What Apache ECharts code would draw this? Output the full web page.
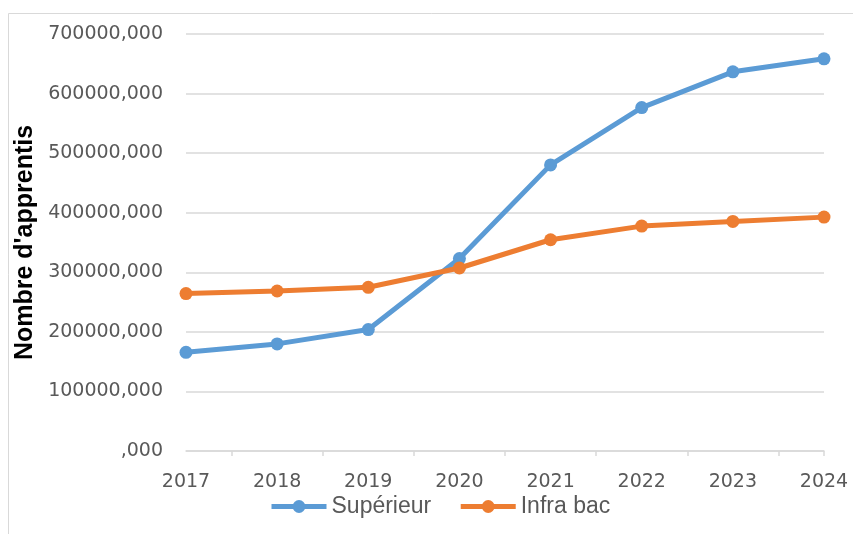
<!DOCTYPE html>
<html>
<head>
<meta charset="utf-8">
<script src="https://cdn.jsdelivr.net/npm/echarts@6/dist/echarts.min.js"></script>
<style>
  html, body { margin: 0; padding: 0; background: #fff; }
  #chart { width: 853px; height: 534px; }
</style>
</head>
<body>
<div id="chart"></div>
<script>
// annees et effectifs
var years = ['2017', '2018', '2019', '2020', '2021', '2022', '2023', '2024'];
var superieur = [165700, 179800, 203900, 323000, 480300, 576500, 636500, 658300];
var infraBac = [264200, 268600, 274800, 307200, 354600, 377500, 385400, 392600];
// demi-pas pour placer les graduations entre les annees
var halfSteps = ['0', '1', '2', '3', '4', '5', '6', '7', '8', '9', '10', '11', '12', '13', '14'];

var chart = echarts.init(document.getElementById('chart'));

var labelFont = 'DejaVu Sans';
var option = {
    animation: false,
    backgroundColor: '#ffffff',
    graphic: [
        {
            type: 'rect',
            position: [8, 13],
            shape: { x: 0.5, y: 0.5, width: 900, height: 600 },
            style: { fill: 'none', stroke: '#d9d9d9', lineWidth: 1 },
            silent: true
        }
    ],
    grid: { left: 186, right: 29, top: 34, bottom: 83, outerBoundsMode: 'none', containLabel: false },
    legend: {
        left: 269,
        top: 495,
        padding: 0,
        itemWidth: 55,
        itemHeight: 16,
        itemGap: 27,
        lineStyle: { width: 5 },
        textStyle: { fontFamily: 'Liberation Sans', fontSize: 23, color: '#595959' },
        data: ['Supérieur', 'Infra bac']
    },
    xAxis: [
        {
            type: 'category',
            data: years,
            boundaryGap: false,
            axisLine: { show: true, lineStyle: { color: '#d9d9d9', width: 1.5 } },
            axisTick: { show: false },
            axisLabel: { margin: 22, fontFamily: labelFont, fontSize: 19, color: '#595959' },
            splitLine: { show: false }
        },
        {
            type: 'category',
            data: halfSteps,
            boundaryGap: false,
            position: 'bottom',
            axisLine: { show: false },
            axisTick: {
                show: true,
                length: 5,
                interval: function (i) { return i % 2 === 1 || i === 14; },
                lineStyle: { color: '#d9d9d9', width: 1.5 }
            },
            axisLabel: { show: false },
            splitLine: { show: false }
        }
    ],
    yAxis: {
        type: 'value',
        min: 0,
        max: 700000,
        interval: 100000,
        name: "Nombre d'apprentis",
        nameLocation: 'middle',
        nameRotate: 90,
        nameGap: 141,
        nameTextStyle: { fontFamily: 'Liberation Sans', fontWeight: 'bold', fontSize: 25, color: '#000000' },
        axisLine: { show: false },
        axisTick: { show: false },
        axisLabel: {
            margin: 23,
            fontFamily: labelFont,
            fontSize: 19,
            color: '#595959',
            formatter: function (v) { return (v === 0 ? '' : String(v)) + ',000'; }
        },
        splitLine: { lineStyle: { color: '#d9d9d9', width: 1.5 } }
    },
    series: [
        {
            name: 'Supérieur',
            type: 'line',
            data: superieur,
            symbol: 'circle',
            symbolSize: 13,
            lineStyle: { width: 5, color: '#5b9bd5' },
            itemStyle: { color: '#5b9bd5' }
        },
        {
            name: 'Infra bac',
            type: 'line',
            data: infraBac,
            symbol: 'circle',
            symbolSize: 13,
            lineStyle: { width: 5, color: '#ed7d31' },
            itemStyle: { color: '#ed7d31' }
        }
    ]
};

option && chart.setOption(option);
</script>
</body>
</html>
